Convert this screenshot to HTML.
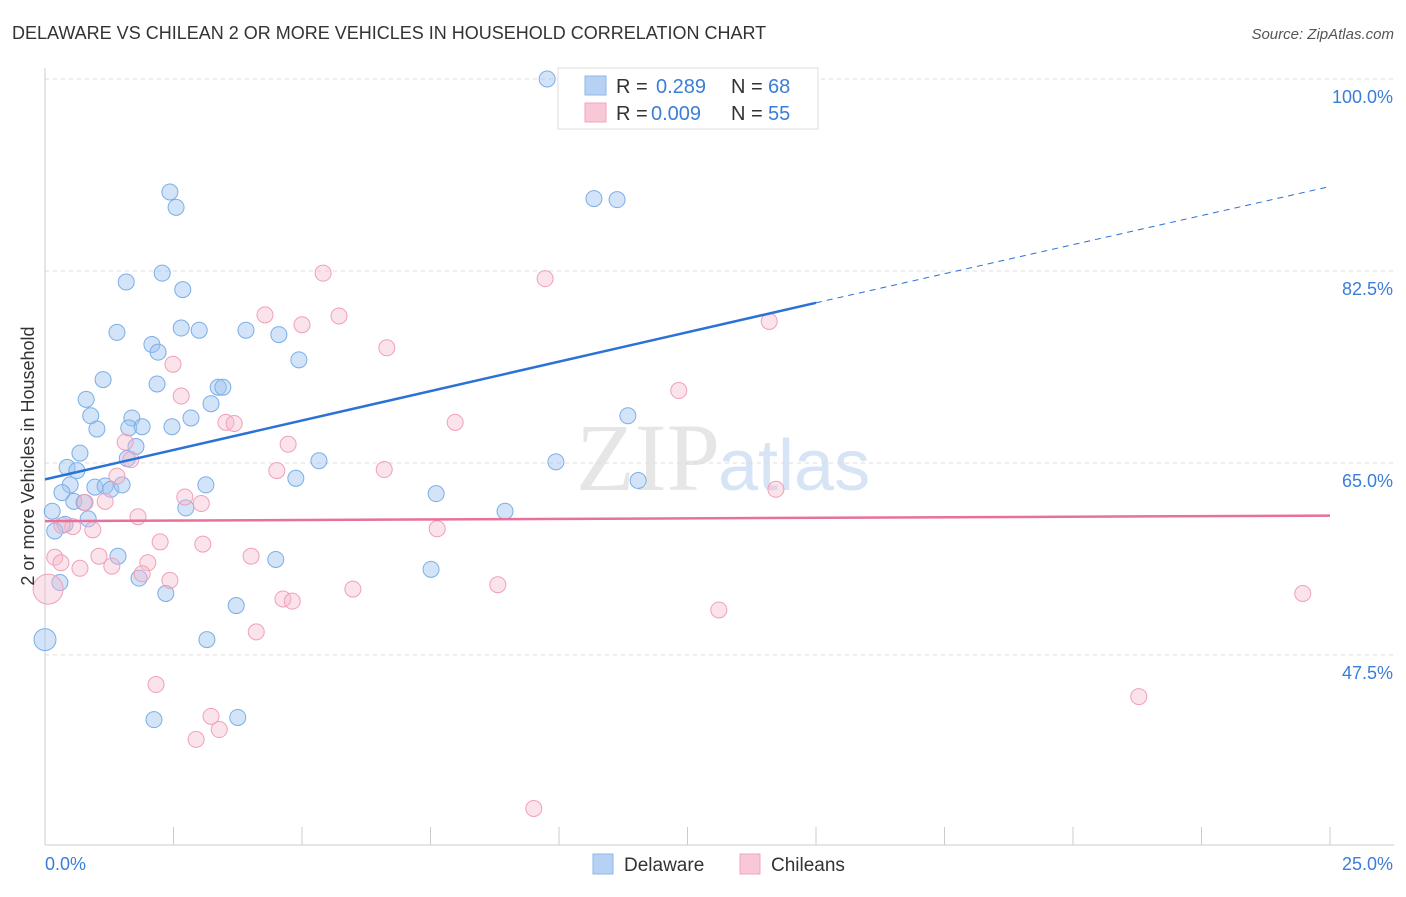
<!DOCTYPE html>
<html><head><meta charset="utf-8"><style>
body{margin:0;background:#fff;font-family:"Liberation Sans",sans-serif;}
</style></head><body>
<svg id="chart" width="1406" height="892" xmlns="http://www.w3.org/2000/svg">
<text x="12" y="39" font-size="18" fill="#333">DELAWARE VS CHILEAN 2 OR MORE VEHICLES IN HOUSEHOLD CORRELATION CHART</text>
<text x="1394" y="39" font-size="15" fill="#555" font-style="italic" text-anchor="end">Source: ZipAtlas.com</text>
<text x="720" y="490" font-size="96" fill="#e6e6e6" font-family="Liberation Serif,serif" text-anchor="end">ZIP</text>
<text x="718" y="490" font-size="72" fill="#d6e4f5">atlas</text>
<g id="grid"></g><g id="pts"></g><g id="lines"></g>
<g>
<rect x="558" y="68" width="260" height="61" fill="#fff" stroke="#ddd"/>
<rect x="585" y="76" width="21" height="19" fill="#b6d1f3" stroke="#8fb6ea"/>
<rect x="585" y="103" width="21" height="19" fill="#f8c8d6" stroke="#f0a6bd"/>
<text x="616" y="93" font-size="20" fill="#333">R = </text><text x="656" y="93" font-size="20" fill="#3b7dd8">0.289</text>
<text x="731" y="93" font-size="20" fill="#333">N = </text><text x="768" y="93" font-size="20" fill="#3b7dd8">68</text>
<text x="616" y="120" font-size="20" fill="#333">R = </text><text x="651" y="120" font-size="20" fill="#3b7dd8">0.009</text>
<text x="731" y="120" font-size="20" fill="#333">N = </text><text x="768" y="120" font-size="20" fill="#3b7dd8">55</text>
</g>
<g>
<rect x="593" y="854" width="20" height="20" fill="#b6d1f3" stroke="#8fb6ea"/>
<text x="624" y="871" font-size="19" fill="#333">Delaware</text>
<rect x="740" y="854" width="20" height="20" fill="#f8c8d6" stroke="#f0a6bd"/>
<text x="771" y="871" font-size="19" fill="#333">Chileans</text>
</g>
<text transform="translate(34,456) rotate(-90)" font-size="18" fill="#333" text-anchor="middle">2 or more Vehicles in Household</text>
<text x="45" y="870" font-size="18" fill="#3b7dd8">0.0%</text>
<text x="1393" y="870" font-size="18" fill="#3b7dd8" text-anchor="end">25.0%</text>
</svg>
<script>
const yTicks=[100,82.5,65,47.5];
const yTickLabels=["100.0%","82.5%","65.0%","47.5%"];
const xTicks=[0,2.5,5,7.5,10,12.5,15,17.5,20,22.5,25];
const blueX=[9.77,2.43,2.55,10.68,11.13,1.58,2.28,2.68,1.40,2.65,3.00,3.91,4.55,2.08,2.20,4.94,1.13,2.18,3.37,3.46,3.23,0.80,0.89,1.69,2.84,1.63,1.89,2.47,1.01,11.34,1.77,1.60,0.68,0.43,0.62,5.33,9.94,0.49,0.97,1.17,1.28,1.50,3.13,0.33,0.56,0.76,7.61,4.88,11.54,0.14,2.74,8.95,0.84,0.39,0.19,1.42,4.49,7.51,1.83,0.29,2.35,3.72,3.15,0,2.12,3.75];
const blueY=[100,89.7,88.3,89.1,89.0,81.5,82.3,80.8,76.9,77.3,77.1,77.1,76.7,75.8,75.1,74.4,72.6,72.2,71.9,71.9,70.4,70.8,69.3,69.1,69.1,68.2,68.3,68.3,68.1,69.3,66.5,65.4,65.9,64.6,64.3,65.2,65.1,63.0,62.8,62.9,62.6,63.0,63.0,62.3,61.5,61.4,62.2,63.6,63.4,60.6,60.9,60.6,59.9,59.4,58.8,56.5,56.2,55.3,54.5,54.1,53.1,52.0,48.9,48.9,41.6,41.8];
const blueR=[8,8,8,8,8,8,8,8,8,8,8,8,8,8,8,8,8,8,8,8,8,8,8,8,8,8,8,8,8,8,8,8,8,8,8,8,8,8,8,8,8,8,8,8,8,8,8,8,8,8,8,8,8,8,8,8,8,8,8,8,8,8,8,11,8,8];
const pinkX=[5.41,9.73,4.28,5.00,5.72,14.09,6.65,2.49,12.33,2.65,3.52,3.68,7.98,1.56,4.73,1.67,4.51,6.60,1.40,14.22,2.72,3.04,1.17,0.78,1.81,7.63,0.54,0.93,0.33,0.19,1.05,2.24,3.07,4.01,0.31,2.00,1.30,0.68,1.89,2.43,0.06,5.99,8.81,4.63,4.81,13.11,24.47,4.11,2.16,3.23,3.39,2.94,21.28,9.51];
const pinkY=[82.3,81.8,78.5,77.6,78.4,77.9,75.5,74.0,71.6,71.1,68.7,68.6,68.7,66.9,66.7,65.3,64.3,64.4,63.8,62.6,61.9,61.3,61.5,61.4,60.1,59.0,59.2,58.9,59.3,56.4,56.5,57.8,57.6,56.5,55.9,55.9,55.6,55.4,54.9,54.3,53.5,53.5,53.9,52.6,52.4,51.6,53.1,49.6,44.8,41.9,40.7,39.8,43.7,33.5];
const pinkR=pinkX.map((v,i)=>i===40?15:8);
const blueLine=[63.5,79.6,90.2]; // y at x=0, x=15 (solid end), x=25
const pinkLine=[59.7,60.2];
const X=v=>45+v*51.4, Y=v=>79+(100-v)*10.97;
const NS="http://www.w3.org/2000/svg";
function mk(t,a,p){const e=document.createElementNS(NS,t);for(const k in a)e.setAttribute(k,a[k]);p.appendChild(e);return e;}
const grid=document.getElementById('grid');
yTicks.forEach((t,i)=>{
 const l=mk('line',{x1:45,x2:1394,y1:Y(t),y2:Y(t),stroke:'#ddd','stroke-dasharray':'4,4'},grid);
 
 
 const tx=mk('text',{x:1393,y:Y(t)+24,'font-size':18,fill:'#3b7dd8','text-anchor':'end'},grid);
 tx.textContent=yTickLabels[i];
 
 
});
const ax=mk('line',{x1:45,x2:45,y1:68,y2:845,stroke:'#ccc'},grid);


const bx=mk('line',{x1:45,x2:1394,y1:845,y2:845,stroke:'#ccc'},grid);


xTicks.forEach(t=>{const l=mk('line',{x1:X(t),x2:X(t),y1:827,y2:845,stroke:'#ccc'},grid);
 
 });
const pts=document.getElementById('pts');
blueX.forEach((v,i)=>{const c=mk('circle',{cx:X(v),cy:Y(blueY[i]),r:blueR[i],fill:'rgba(160,196,240,0.45)',stroke:'#7aaee8','stroke-width':1},pts);
 
 });
pinkX.forEach((v,i)=>{const c=mk('circle',{cx:X(v),cy:Y(pinkY[i]),r:pinkR[i],fill:'rgba(246,184,204,0.4)',stroke:'#f0a0b8','stroke-width':1},pts);
 
 });
const lines=document.getElementById('lines');
const b1=mk('line',{x1:X(0),y1:Y(blueLine[0]),x2:X(15),y2:Y(blueLine[1]),stroke:'#2a72d6','stroke-width':2.5},lines);


const b2=mk('line',{x1:X(15),y1:Y(blueLine[1]),x2:X(25),y2:Y(blueLine[2]),stroke:'#2a72d6','stroke-width':1,'stroke-dasharray':'6,5'},lines);


const p1=mk('line',{x1:X(0),y1:Y(pinkLine[0]),x2:X(25),y2:Y(pinkLine[1]),stroke:'#e8709a','stroke-width':2.5},lines);


</script>
</body></html>
